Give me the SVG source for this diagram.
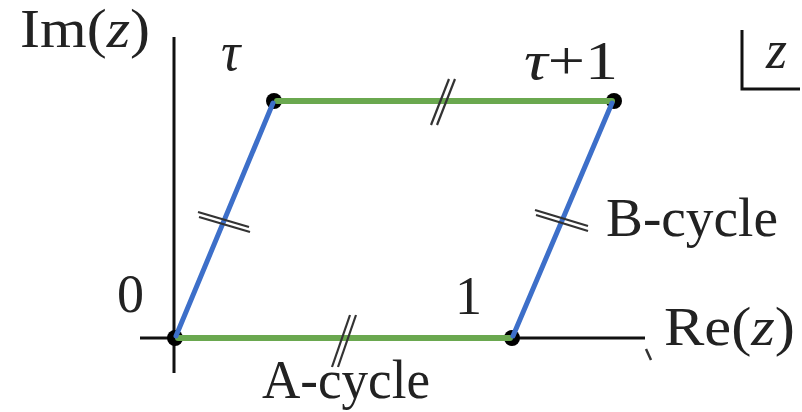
<svg xmlns="http://www.w3.org/2000/svg" width="802" height="412" viewBox="0 0 802 412">
<style>
  .axis { stroke: #111; stroke-width: 3; fill: none; }
  .green { stroke: #6aa84f; stroke-width: 6; stroke-linecap: round; fill: none; }
  .blue { stroke: #3d6fc9; stroke-width: 5; stroke-linecap: round; fill: none; }
  .tick { stroke: #333; stroke-width: 2.2; fill: none; }
  .dot { fill: #000; }
  .lbl { font-family: "Liberation Serif", "DejaVu Serif", serif; font-size: 54px; fill: #222; }
  .it { font-style: italic; }
</style>
<rect width="802" height="412" fill="#fff"/>
<g id="axes">
  <line class="axis" x1="174" y1="37" x2="174" y2="373"/>
  <line class="axis" x1="140" y1="338" x2="645" y2="338"/>
  <path d="M646 349 L651 360" stroke="#333" stroke-width="2.5" fill="none"/>
  <path class="axis" d="M742 30 V89 H800"/>
</g>
<g id="vertices">
  <circle class="dot" cx="175" cy="338" r="8"/>
  <circle class="dot" cx="512" cy="338" r="8"/>
  <circle class="dot" cx="274" cy="101" r="8"/>
  <circle class="dot" cx="614" cy="101" r="8"/>
</g>
<g id="connectors">
  <line class="green" x1="178" y1="338" x2="510" y2="338"/>
  <line class="green" x1="277" y1="101" x2="612" y2="101"/>
  <line class="blue" x1="176" y1="336" x2="273" y2="103"/>
  <line class="blue" x1="513" y1="336" x2="612" y2="103"/>
  <g id="ticks">
    <line class="tick" x1="431" y1="125" x2="449" y2="79"/>
    <line class="tick" x1="437" y1="125" x2="455" y2="79"/>
    <line class="tick" x1="332" y1="367" x2="350" y2="315"/>
    <line class="tick" x1="338" y1="367" x2="356" y2="315"/>
    <line class="tick" x1="198" y1="212" x2="249" y2="227"/>
    <line class="tick" x1="199" y1="217" x2="250" y2="232"/>
    <line class="tick" x1="535" y1="210" x2="588" y2="226"/>
    <line class="tick" x1="536" y1="215" x2="588" y2="231"/>
  </g>
</g>
<g id="labels">
  <text class="lbl" x="20" y="47" textLength="130" lengthAdjust="spacingAndGlyphs">Im(<tspan class="it">z</tspan>)</text>
  <text class="lbl it" x="221" y="70">τ</text>
  <text class="lbl" x="524" y="79" textLength="94" lengthAdjust="spacingAndGlyphs"><tspan class="it">τ</tspan>+1</text>
  <text class="lbl it" x="766" y="68">z</text>
  <text class="lbl" x="117" y="312">0</text>
  <text class="lbl" x="455" y="314">1</text>
  <text class="lbl" x="664" y="345" textLength="131" lengthAdjust="spacingAndGlyphs">Re(<tspan class="it">z</tspan>)</text>
  <text class="lbl" x="262" y="398" textLength="168" lengthAdjust="spacingAndGlyphs">A-cycle</text>
  <text class="lbl" x="606" y="236" textLength="172" lengthAdjust="spacingAndGlyphs">B-cycle</text>
</g>
</svg>
